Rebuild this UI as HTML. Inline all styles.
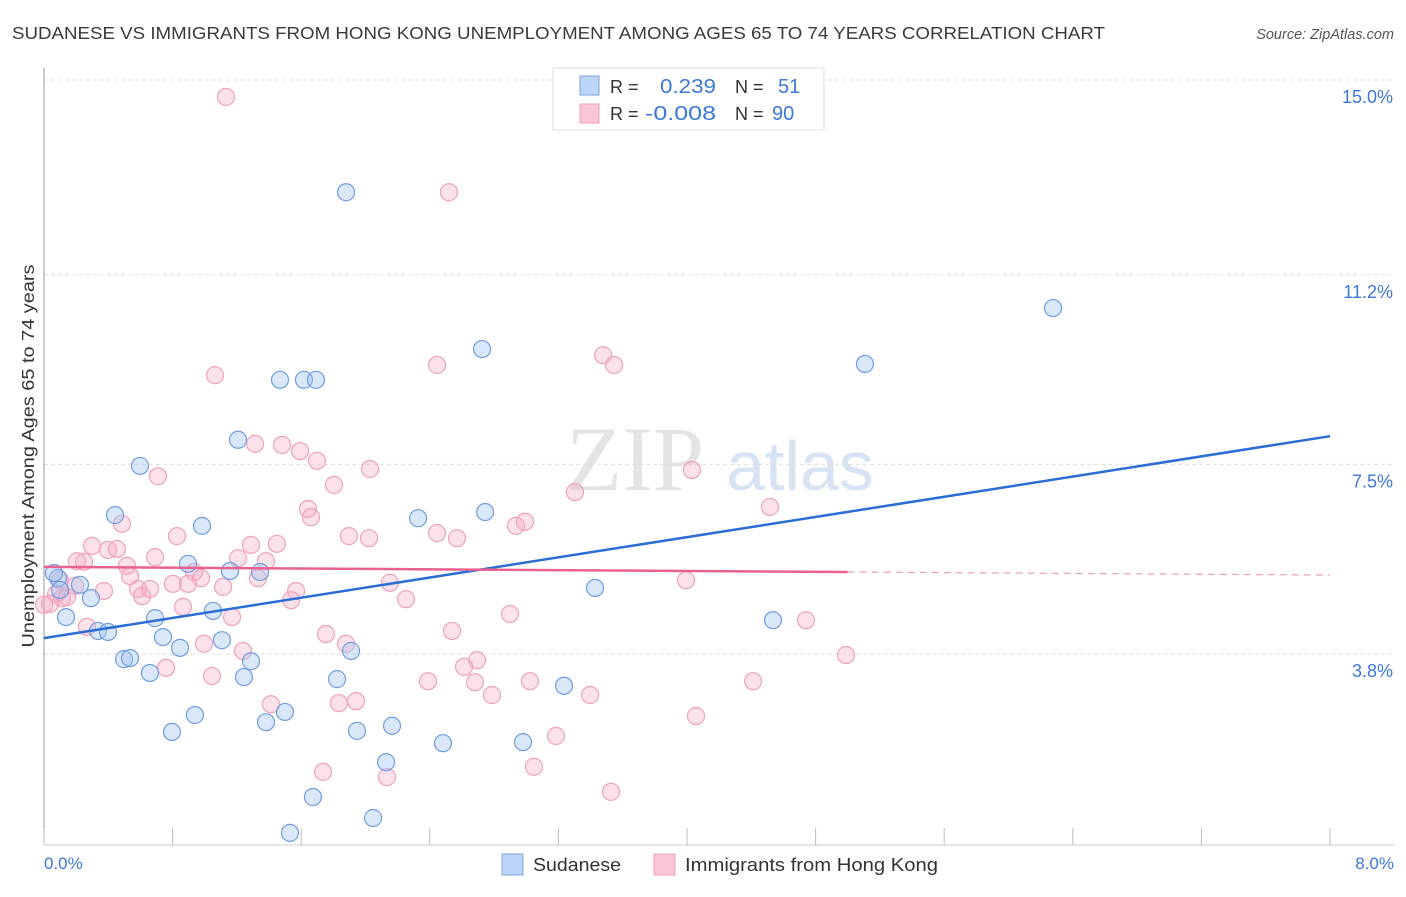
<!DOCTYPE html>
<html><head><meta charset="utf-8"><style>
body{margin:0;background:#fff;font-family:"Liberation Sans",sans-serif;}
svg text{font-family:"Liberation Sans",sans-serif;}
</style></head><body>
<svg id="chart" width="1406" height="892">
<text x="12" y="39" font-size="17.5" fill="#3a3a3a" textLength="1093" lengthAdjust="spacingAndGlyphs">SUDANESE VS IMMIGRANTS FROM HONG KONG UNEMPLOYMENT AMONG AGES 65 TO 74 YEARS CORRELATION CHART</text>
<text x="1394" y="39" font-size="14.5" fill="#555" text-anchor="end" font-style="italic">Source: ZipAtlas.com</text>
<g>
<text x="635" y="490" font-size="92" fill="#e4e4e4" text-anchor="middle" font-family="Liberation Serif" style="font-family:'Liberation Serif',serif">ZIP</text>
<text x="800" y="490" font-size="70" fill="#d6e3f3" text-anchor="middle">atlas</text>
</g>
<g id="grid"></g>
<line x1="44" y1="68" x2="44" y2="845" stroke="#999"/>
<line x1="44" y1="845" x2="1394" y2="845" stroke="#ccc"/>
<g id="xticks"></g>
<text x="34" y="456" font-size="17.5" fill="#333" text-anchor="middle" textLength="383" lengthAdjust="spacingAndGlyphs" transform="rotate(-90 34 456)">Unemployment Among Ages 65 to 74 years</text>
<text x="44" y="869" font-size="17" fill="#3b78d8">0.0%</text>
<text x="1394" y="869" font-size="17" fill="#3b78d8" text-anchor="end">8.0%</text>
<g id="pts"></g>
<g id="trends"></g>
<g>
<rect x="553" y="68" width="271" height="62" fill="#fff" stroke="#ddd"/>
<rect x="580" y="76" width="19" height="19" fill="#bcd4f5" stroke="#7ba6e0"/>
<rect x="580" y="104" width="19" height="19" fill="#f8c6d6" stroke="#f0a0bb"/>
<text x="610" y="93" font-size="18" fill="#333">R =</text>
<text x="660" y="93" font-size="20" fill="#3b78d8" textLength="56" lengthAdjust="spacingAndGlyphs">0.239</text>
<text x="735" y="93" font-size="18" fill="#333">N =</text>
<text x="778" y="93" font-size="20" fill="#3b78d8">51</text>
<text x="610" y="120" font-size="18" fill="#333">R =</text>
<text x="645" y="120" font-size="20" fill="#3b78d8" textLength="71" lengthAdjust="spacingAndGlyphs">-0.008</text>
<text x="735" y="120" font-size="18" fill="#333">N =</text>
<text x="772" y="120" font-size="20" fill="#3b78d8">90</text>
</g>
<g>
<rect x="502" y="854" width="21" height="21" fill="#bcd4f5" stroke="#7ba6e0"/>
<text x="533" y="871" font-size="18" fill="#333" textLength="88" lengthAdjust="spacingAndGlyphs">Sudanese</text>
<rect x="654" y="854" width="21" height="21" fill="#f8c6d6" stroke="#f0a0bb"/>
<text x="685" y="871" font-size="18" fill="#333" textLength="253" lengthAdjust="spacingAndGlyphs">Immigrants from Hong Kong</text>
</g>
</svg>
<script>
const yTicks=[3.8,7.5,11.2,15.0];
const yTickLabels=["3.8%","7.5%","11.2%","15.0%"];
const xTicks=[0,0.8,1.6,2.4,3.2,4.0,4.8,5.6,6.4,7.2,8.0];
const blueX=[0.087,0.062,0.100,0.224,0.292,0.137,0.336,0.398,0.498,0.535,0.597,0.442,0.659,0.691,0.740,0.796,0.846,0.896,0.939,0.983,1.051,1.107,1.157,1.207,1.244,1.288,1.344,1.381,1.468,1.499,1.530,1.617,1.692,1.673,1.823,1.879,1.910,1.947,2.047,2.128,2.165,2.327,2.482,2.725,2.744,2.980,3.235,3.428,4.535,5.107,6.277];
const blueY=[5.28,5.38,5.05,5.15,4.89,4.52,4.25,4.23,3.70,3.72,7.47,6.51,3.43,4.50,4.13,2.28,3.92,5.56,2.61,6.30,4.64,4.07,5.42,7.98,3.35,3.66,5.40,2.47,9.15,2.67,0.31,9.15,9.15,1.01,3.31,12.81,3.86,2.30,0.60,1.69,2.40,6.45,2.06,9.75,6.57,2.08,3.18,5.09,4.46,9.46,10.55];
const pinkX=[1.132,2.519,2.445,3.478,3.546,1.064,1.313,1.481,1.593,1.698,1.804,0.709,2.028,3.303,4.031,4.516,1.642,1.661,0.485,0.827,1.897,2.022,2.445,2.569,2.936,2.992,0.299,0.398,0.454,0.205,0.249,0.691,1.288,1.449,1.381,1.207,0.516,0.535,0.933,0.977,0.802,0.896,1.331,1.114,2.152,3.994,0.193,0.075,0.112,0.143,0.037,0.373,0.585,0.610,0.659,1.568,1.537,2.252,0.865,1.170,2.899,0.267,1.754,1.879,2.538,0.759,1.045,1.238,0.995,2.694,2.613,2.389,2.681,3.023,2.787,3.397,4.411,4.989,1.412,1.835,1.941,4.740,4.056,3.185,1.736,3.048,2.134,3.527,0.0,0.100];
const pinkY=[14.67,12.81,9.44,9.63,9.44,9.24,7.90,7.88,7.76,7.57,7.10,7.27,7.41,6.96,7.39,6.67,6.63,6.47,6.34,6.10,6.10,6.06,6.16,6.06,6.30,6.38,5.91,5.83,5.85,5.61,5.60,5.69,5.93,5.95,5.61,5.67,5.52,5.32,5.40,5.28,5.17,5.17,5.28,5.11,5.19,5.24,5.13,4.97,4.89,4.91,4.78,5.03,5.07,4.93,5.07,5.03,4.85,4.87,4.72,4.52,4.58,4.33,4.19,4.00,4.25,3.53,3.37,3.86,4.00,3.68,3.55,3.27,3.25,3.27,3.00,3.00,3.27,3.78,2.82,2.84,2.88,4.46,2.59,2.20,1.50,1.60,1.40,1.11,4.76,5.24];
const blueTrendX=[0,8];
const blueTrendY=[4.11,8.05];
const pinkTrendX=[0,5.0,8];
const pinkTrendY=[5.50,5.40,5.34];

const NS="http://www.w3.org/2000/svg";
const sx=v=>44+v*(1286/8);
const sy=v=>654-(v-3.8)*(574/11.2);
function mk(tag,attrs,parent){const e=document.createElementNS(NS,tag);for(const k in attrs)e.setAttribute(k,attrs[k]);parent.appendChild(e);return e;}
const grid=document.getElementById('grid');
yTicks.forEach((t,i)=>{
  const l=mk('line',{x1:44,x2:1394,y1:sy(t),y2:sy(t),stroke:'#ddd','stroke-dasharray':'4,3'},grid);
  
  
  const tx=mk('text',{x:1393,y:sy(t)+23,'font-size':18,fill:'#3b78d8','text-anchor':'end'},grid);
  tx.textContent=yTickLabels[i];
  
  
});
const xt=document.getElementById('xticks');
xTicks.forEach(t=>{
  const l=mk('line',{x1:sx(t),x2:sx(t),y1:828,y2:845,stroke:'#bbb'},xt);
  
  
});
const pts=document.getElementById('pts');
pinkX.forEach((x,i)=>{
  const c=mk('circle',{cx:sx(x),cy:sy(pinkY[i]),r:8.5,fill:'rgba(244,168,195,0.35)',stroke:'#f0a0bb','stroke-width':1.2},pts);
  
  
});
blueX.forEach((x,i)=>{
  const c=mk('circle',{cx:sx(x),cy:sy(blueY[i]),r:8.5,fill:'rgba(160,195,240,0.4)',stroke:'#6f9de0','stroke-width':1.2},pts);
  
  
});
const tr=document.getElementById('trends');
const bl=mk('line',{x1:sx(blueTrendX[0]),y1:sy(blueTrendY[0]),x2:sx(blueTrendX[1]),y2:sy(blueTrendY[1]),stroke:'#2a6dd4','stroke-width':2.5},tr);


const pl=mk('line',{x1:sx(pinkTrendX[0]),y1:sy(pinkTrendY[0]),x2:sx(pinkTrendX[1]),y2:sy(pinkTrendY[1]),stroke:'#e8628e','stroke-width':2.5},tr);


const pd=mk('line',{x1:sx(pinkTrendX[1]),y1:sy(pinkTrendY[1]),x2:sx(pinkTrendX[2]),y2:sy(pinkTrendY[2]),stroke:'#e8a0b8','stroke-width':1.2,'stroke-dasharray':'7,5'},tr);


</script>
</body></html>
